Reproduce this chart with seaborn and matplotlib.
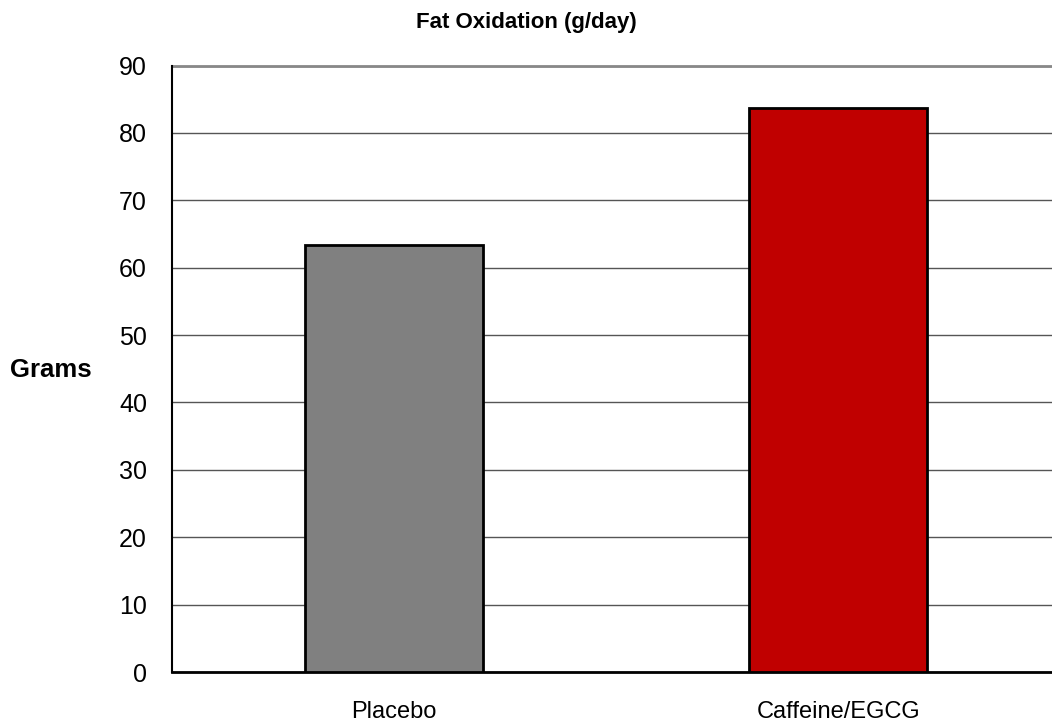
import matplotlib
matplotlib.use("Agg")
import matplotlib.pyplot as plt
import seaborn as sns
import pandas as pd

groups = ["Placebo", "Caffeine/EGCG"]
fat_oxidation = [63.3, 83.7]
bar_colors = ["#808080", "#c00000"]
y_ticks = [0, 10, 20, 30, 40, 50, 60, 70, 80, 90]

sns.set_style("white")
plt.rcParams["font.family"] = ["Liberation Sans", "DejaVu Sans"]

df = pd.DataFrame({"group": groups, "value": fat_oxidation})

fig = plt.figure(figsize=(10.52, 7.23), dpi=100)
ax = fig.add_axes([172 / 1052, 51 / 723, 1 - 172 / 1052, (672 - 65.5) / 723])

sns.barplot(data=df, x="group", y="value", hue="group", palette=bar_colors,
            width=0.40, edgecolor="black", linewidth=2, saturation=1,
            legend=False, ax=ax, zorder=3)

ax.set_ylim(0, 90)
ax.set_xlim(-0.498, 1.48)
ax.set_yticks(y_ticks)
ax.yaxis.grid(True, color="#555555", linewidth=1, zorder=0)
ax.set_axisbelow(True)
ax.tick_params(axis="y", labelsize=18, length=0, pad=18, labelcolor="black")
ax.tick_params(axis="x", labelsize=17, length=0, pad=21, labelcolor="black")
ax.set_xlabel("")
ax.set_ylabel("")

# top of plot area is drawn as a lighter, slightly thicker line
ax.axhline(90, color="#888888", linewidth=2, zorder=1, clip_on=False)

for side in ["top", "right"]:
    ax.spines[side].set_visible(False)
ax.spines["left"].set_color("black")
ax.spines["left"].set_linewidth(1.5)
ax.spines["bottom"].set_color("black")
ax.spines["bottom"].set_linewidth(2)

fig.text(526 / 1052, 1 - 28 / 723, "Fat Oxidation (g/day)", ha="center", va="baseline",
         fontsize=16, fontweight="bold", color="black")
fig.text(51 / 1052, 1 - 377 / 723, "Grams", ha="center", va="baseline",
         fontsize=18.5, fontweight="bold", color="black")

fig.savefig("out.png", dpi=100)
